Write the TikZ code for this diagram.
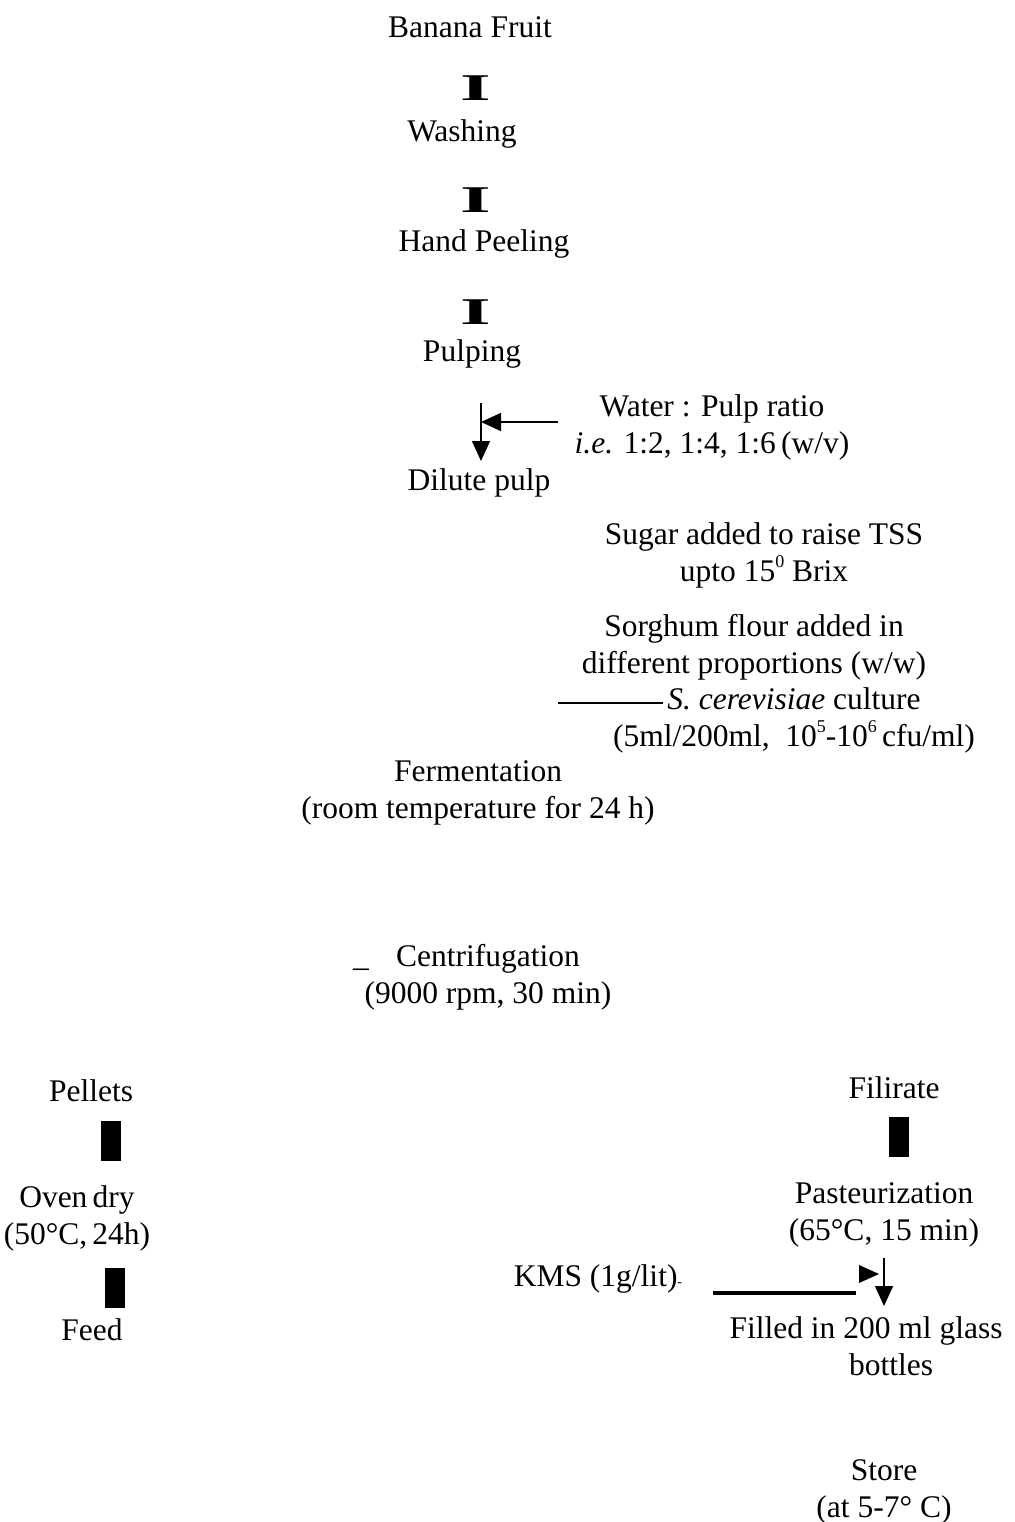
\documentclass[tikz,border=0pt]{standalone}
\usepackage{fontspec}
\setmainfont{Liberation Serif}
\usetikzlibrary{positioning,
				arrows.meta,
				calc}

\newcommand{\supnum}[1]{\raisebox{0.42em}{\fontsize{18}{18}\selectfont #1}}

\tikzset{
	stage/.style={font=\fontsize{31.5}{37}\selectfont, align=center, inner sep=0pt},
	bigI/.style={font=\fontsize{31.5}{37}\selectfont\bfseries, inner sep=0pt},
	flow/.style={line width=1.5pt, -{Triangle[length=20pt,width=18pt]}},
	slab/.style={fill=black, draw=none, minimum width=20pt, minimum height=40pt, inner sep=0pt}
}

\begin{document}
\begin{tikzpicture}[x=1pt,y=-1pt]
	\useasboundingbox (0,0) rectangle (1014,1522);
	% main column
	\node[stage] (fruit) at (470,27) {Banana Fruit};
	\node[bigI] (i1) at (476,88) {\scalebox{2.5}[1.2]{I}};
	\node[stage] (wash) at (462,134) {Washing};
	\node[bigI] (i2) at (476,200) {\scalebox{2.5}[1.2]{I}};
	\node[stage] (peel) at (484,244) {Hand Peeling};
	\node[bigI] (i3) at (476,312) {\scalebox{2.5}[1.2]{I}};
	\node[stage] (pulp) at (472,354) {Pulping};
	\node[stage] (water) at (712,427) {Water : Pulp ratio\\\textit{i.e.} 1:2, 1:4, 1:6\,(w/v)};
	\node[stage] (dilute) at (479,483) {Dilute pulp};
	\coordinate (downtop) at (481,403);
	\coordinate (downtip) at (481,461);
	\coordinate (watertail) at (558,422);
	\coordinate (watertip) at (481,422);
	\draw[flow] (downtop) -- (downtip);
	\draw[flow] (watertail) -- (watertip);
	% additions
	\node[stage] (sugar) at (764,555) {Sugar added to raise TSS\\upto 15\supnum{0} Brix};
	\node[stage] (sorghum) at (754,647) {Sorghum flour added in\\different proportions (w/w)};
	\node[stage] (yeast) at (794,720) {\textit{S. cerevisiae} culture\\(5ml/200ml,\ \ 10\supnum{5}-10\supnum{6}\,cfu/ml)};
	\coordinate (yeastline) at (558,703);
	\draw[line width=1.5pt] (yeastline) -- (663,703);
	\node[stage] (ferment) at (478,793) {Fermentation\\(room temperature for 24 h)};
	\node[stage] (centri) at (488,977) {Centrifugation\\(9000 rpm, 30 min)};
	\node[stage, anchor=base] (dash) at (361,966) {\_};
	% pellets branch
	\node[stage] (pellet) at (91,1091) {Pellets};
	\node[slab] (bar1) at (111,1141) {};
	\node[stage] (oven) at (77,1218) {Oven\,dry\\(50°C,\,24h)};
	\node[slab] (bar2) at (115,1288) {};
	\node[stage] (feed) at (92,1330) {Feed};
	% filtrate branch
	\node[stage] (filt) at (894,1088) {Filirate};
	\node[slab] (bar3) at (899,1137) {};
	\node[stage] (past) at (884,1215) {Pasteurization\\(65°C,\ 15 min)};
	\node[stage] (kms) at (598,1279) {KMS (1g/lit){\fontsize{14}{14}\selectfont -}};
	\coordinate (kmsL) at (713,1293);
	\coordinate (kmsR) at (856,1293);
	\draw[line width=4pt] (kmsL) -- (kmsR);
	\fill (859,1265) -- (879,1274) -- (859,1283) -- cycle;
	\coordinate (filltop) at (884,1258);
	\coordinate (filltip) at (884,1306);
	\draw[flow] (filltop) -- (filltip);
	\node[stage] (fill) at (866,1346) {Filled in 200 ml glass\\\hspace*{50pt}bottles};
	\node[stage] (store) at (884,1492) {Store\\(at 5-7° C)};
\end{tikzpicture}
\end{document}
